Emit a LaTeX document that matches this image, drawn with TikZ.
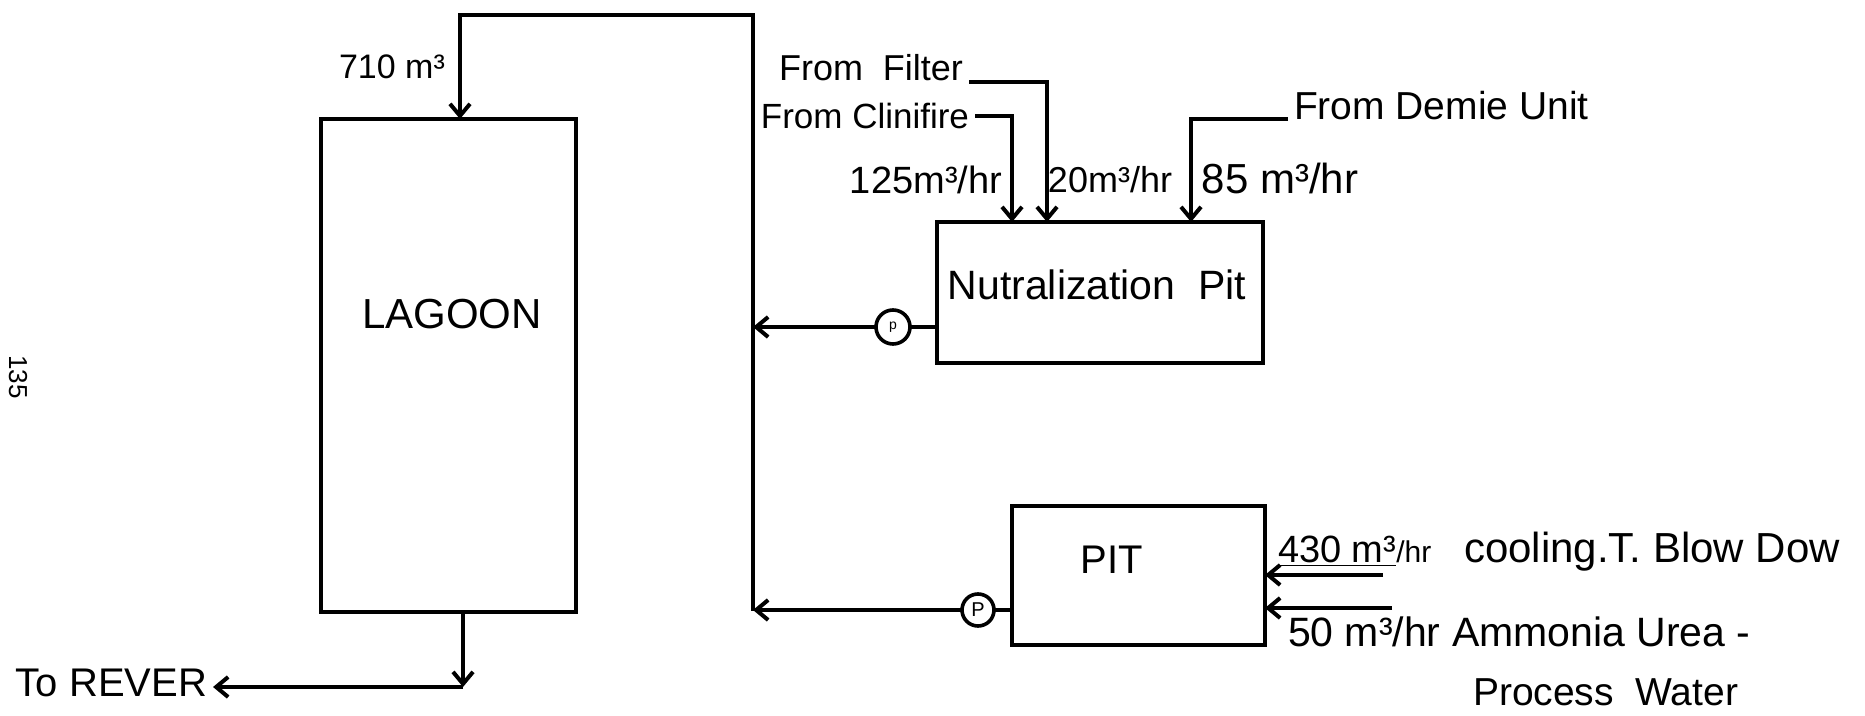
\documentclass[tikz,border=0pt]{standalone}
\usepackage{fontspec}
\setmainfont{Liberation Sans}
\usetikzlibrary{arrows.meta}
\begin{document}
\begin{tikzpicture}[x=0.5pt,y=-0.5pt,
  box/.style={draw, line width=2.2pt, inner sep=0pt, outer sep=0pt},
  pipe/.style={line width=2pt},
  flow/.style={pipe, -{Straight Barb[length=6pt,width=10pt]}},
  lbl/.style={font=\fontsize{20}{22}\selectfont, inner sep=0pt, outer sep=3pt},
  pump/.style={draw, circle, line width=1.8pt, inner sep=0pt, outer sep=0pt, minimum size=16pt}]
\useasboundingbox (0,0) rectangle (1865,716);

% tanks
\node[box, minimum width=127.5pt, minimum height=246.5pt] (lagoon) at (448.5,365.5) {};
\node[lbl, font=\fontsize{21}{24}\selectfont] (lagtxt) at (452,314) {LAGOON};
\node[box, minimum width=163pt, minimum height=70.5pt] (nut) at (1100,292.5) {};
\node[lbl, font=\fontsize{20.5}{24}\selectfont] (nuttxt) at (1097,285) {Nutralization\ \ Pit};
\node[box, minimum width=126.5pt, minimum height=69.5pt] (pit) at (1138.5,575.5) {};
\node[lbl] (pittxt) at (1112,560) {PIT};

% pumps
\node[pump, minimum size=17pt] (p1) at (893,327) {\fontsize{7}{7}\selectfont p};
\node[pump] (p2) at (978,610) {\fontsize{10}{10}\selectfont P};

% main return line
\coordinate (tl) at (460,15);
\coordinate (tr) at (753,15);
\coordinate (br) at (753,611);
\draw[flow] (br) -- (tr) -- (tl) -- (tl |- lagoon.north);
\node[lbl, font=\fontsize{17}{20}\selectfont] (v710) at (392,67) {710 m³};

\draw[pipe] (p1.east) -- (p1.east -| nut.west);
\draw[flow] (p1.west) -- (p1.west -| tr);
\draw[pipe] (p2.east) -- (p2.east -| pit.west);
\draw[flow] (p2.west) -- (p2.west -| br);

% outlet
\coordinate (out) at (463,687);
\draw[flow] (lagoon.south -| out) -- (out);
\node[lbl, anchor=east] (rever) at (213,683) {To REVER};
\draw[flow] (out) -- (out -| rever.east);

% inputs to neutralization pit
\node[lbl, font=\fontsize{18}{20}\selectfont, anchor=east] (ffilt) at (969,68) {From\ \ Filter};
\node[lbl, font=\fontsize{17.5}{20}\selectfont, anchor=east] (fclin) at (975,116) {From Clinifire};
\node[lbl, font=\fontsize{19.5}{22}\selectfont, anchor=west] (fdem) at (1288,106) {From Demie Unit};
\coordinate (fa) at (1047,82);
\coordinate (ca) at (1012,116);
\coordinate (da) at (1191,119);
\draw[flow] (ffilt.east |- fa) -- (fa) -- (fa |- nut.north);
\draw[flow] (fclin.east) -- (ca) -- (ca |- nut.north);
\draw[flow] (fdem.west |- da) -- (da) -- (da |- nut.north);
\node[lbl, font=\fontsize{19}{22}\selectfont] (r125) at (926,180) {125m³/hr};
\node[lbl, font=\fontsize{18}{20}\selectfont] (r20) at (1110,180) {20m³/hr};
\node[lbl, font=\fontsize{21}{24}\selectfont] (r85) at (1280,178) {85 m³/hr};

% inputs to pit
\coordinate (i1) at (1383,575);
\coordinate (i2) at (1392,608);
\draw[flow] (i1) -- (i1 -| pit.east);
\draw[flow] (i2) -- (i2 -| pit.east);
\node[lbl, anchor=west, font=\fontsize{19}{22}\selectfont] (t430) at (1272,551) {\underline{430 m³}{\fontsize{15}{16}\selectfont /hr}};
\node[lbl, anchor=west, font=\fontsize{21}{24}\selectfont] (tcool) at (1458,552) {cooling.T. Blow Dow};
\node[lbl, anchor=west, font=\fontsize{20.5}{24}\selectfont] (t50) at (1282,632) {50 m³/hr Ammonia Urea -};
\node[lbl, anchor=west, font=\fontsize{19.5}{24}\selectfont] (tproc) at (1467,692) {Process\ \ Water};

% page number
\node[font=\fontsize{13}{14}\selectfont, rotate=-90, inner sep=0pt] (pg) at (18,377) {135};
\end{tikzpicture}
\end{document}
